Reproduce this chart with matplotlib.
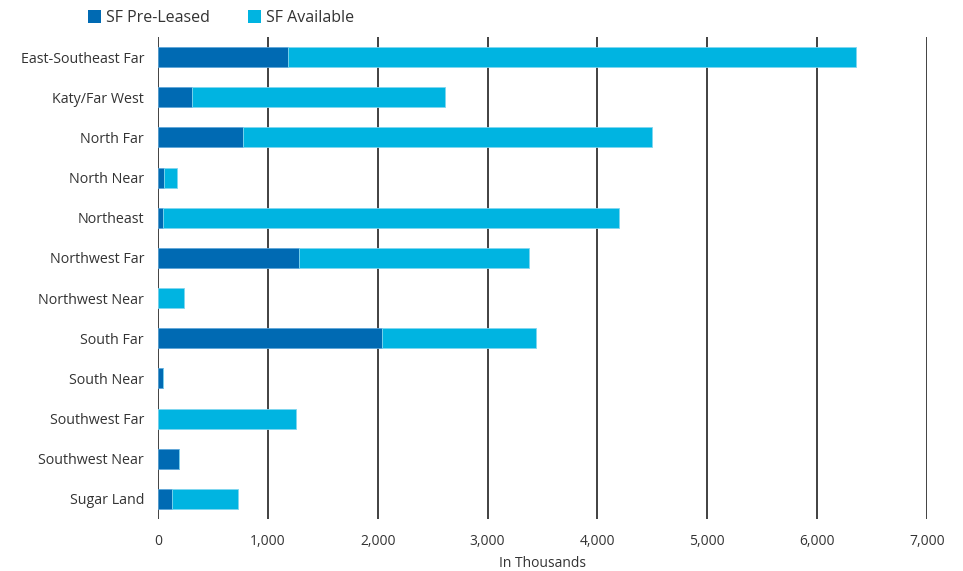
import matplotlib
matplotlib.use("Agg")
import matplotlib.pyplot as plt
from matplotlib.patches import Patch
from matplotlib.ticker import FuncFormatter

plt.rcParams['font.family'] = ['Open Sans', 'DejaVu Sans']

categories = ["East-Southeast Far", "Katy/Far West", "North Far", "North Near", "Northeast",
              "Northwest Far", "Northwest Near", "South Far", "South Near", "Southwest Far",
              "Southwest Near", "Sugar Land"]
pre_leased = [1183, 310, 774, 55, 45, 1283, 0, 2039, 50, 0, 191, 127]
available = [5171, 2302, 3723, 118, 4151, 2094, 237, 1402, 0, 1256, 0, 601]
xticks = [0, 1000, 2000, 3000, 4000, 5000, 6000, 7000]

c_pre = "#006AB3"
c_av = "#00B4E1"

fig = plt.figure(figsize=(9.63, 5.71), dpi=100)
ax = fig.add_axes([158/963, 1-519/571, (927-158)/963, (519-37)/571])

y = list(range(len(categories)))
ax.barh(y, pre_leased, height=0.5, color=c_pre, edgecolor="#5fa6d8", linewidth=0.6, zorder=3)
ax.barh(y, available, left=pre_leased, height=0.5, color=c_av, edgecolor="#7fd6ef", linewidth=0.6, zorder=3)

ax.set_xlim(0, 7000)
ax.set_ylim(len(categories)-0.5, -0.5)
ax.set_yticks(y)
ax.set_yticklabels(categories, fontsize=10.3, color="#333333")
ax.set_xticks(xticks)
ax.xaxis.set_major_formatter(FuncFormatter(lambda v, p: f"{int(v):,}"))
ax.tick_params(axis='x', labelsize=10, colors="#333333", length=0, pad=11)
ax.tick_params(axis='y', length=0, pad=10)
for t in xticks:
    ax.axvline(t, color="#333333", linewidth=1.3, zorder=1)
for s in ax.spines.values():
    s.set_visible(False)
ax.set_xlabel("In Thousands", fontsize=10, color="#333333", labelpad=5)

handles = [Patch(facecolor=c_pre, label="SF Pre-Leased"), Patch(facecolor=c_av, label="SF Available")]
fig.legend(handles=handles, loc="center left", bbox_to_anchor=(74/963, 1-18/571), ncol=2,
           frameon=False, fontsize=11.5, handlelength=0.8, handleheight=0.8, handletextpad=0.3,
           columnspacing=2.4, labelcolor="#333333")

fig.savefig("out.png", dpi=100)
